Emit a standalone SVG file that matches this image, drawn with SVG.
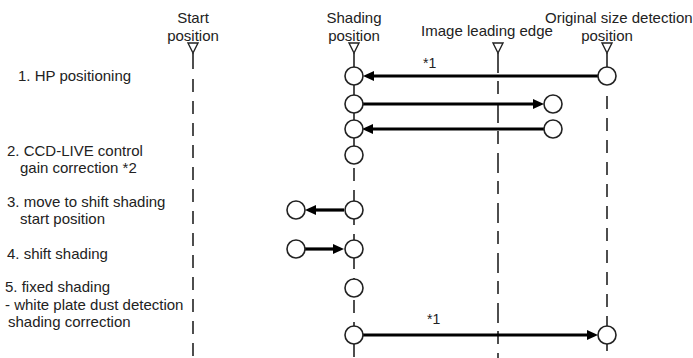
<svg xmlns="http://www.w3.org/2000/svg" width="693" height="358" viewBox="0 0 693 358">
<style>
text{font-family:"Liberation Sans",Arial,sans-serif;font-size:15px;fill:#222}
.c{text-anchor:middle}
.s{font-size:14px}
.tri{fill:none;stroke:#222;stroke-width:1.4}
.solid{stroke:#222;stroke-width:1.6;fill:none}
.dash{stroke:#222;stroke-width:1.6;fill:none;stroke-dasharray:13 9}
.node{fill:#fff;stroke:#222;stroke-width:1.6}
.arr{stroke:#000;stroke-width:3.2;fill:none}
.head{fill:#000}
</style>
<g id="labels">
<text class="c" x="193" y="23">Start</text>
<text class="c" x="193" y="41">position</text>
<text class="c" x="354" y="23">Shading</text>
<text class="c" x="354" y="41">position</text>
<text class="c" x="487" y="36">Image leading edge</text>
<text x="545" y="23">Original size detection</text>
<text class="c" x="607" y="41">position</text>
<text x="18" y="81">1. HP positioning</text>
<text x="7" y="156">2. CCD-LIVE control</text>
<text x="20" y="173">gain correction *2</text>
<text x="7" y="207">3. move to shift shading</text>
<text x="20" y="224">start position</text>
<text x="7" y="259">4. shift shading</text>
<text x="5" y="292">5. fixed shading</text>
<text x="5" y="310">- white plate dust detection</text>
<text x="8" y="327">shading correction</text>
</g>
<g id="connectors">
<polygon class="tri" points="188,43 198,43 193,53"/>
<line class="solid" x1="193" y1="53" x2="193" y2="69"/>
<line class="dash" x1="193" y1="79" x2="193" y2="358"/>
<polygon class="tri" points="349,43 359,43 354,53"/>
<line class="solid" x1="354" y1="53" x2="354" y2="164"/>
<line class="dash" x1="354" y1="168" x2="354" y2="358"/>
<polygon class="tri" points="493,43 503,43 498,53"/>
<line class="dash" x1="498" y1="53" x2="498" y2="358" style="stroke-dasharray:20 8 13 9"/>
<polygon class="tri" points="602,43 612,43 607,53"/>
<line class="solid" x1="607" y1="53" x2="607" y2="67"/>
<line class="dash" x1="607" y1="96" x2="607" y2="358"/>
<line class="arr" x1="598" y1="76" x2="372" y2="76"/>
<polygon class="head" points="363,76 374,71 374,81"/>
<line class="arr" x1="362" y1="104" x2="535" y2="104"/>
<polygon class="head" points="544,104 533,99 533,109"/>
<line class="arr" x1="544" y1="129" x2="372" y2="129"/>
<polygon class="head" points="362,129 373,124 373,134"/>
<line class="arr" x1="344" y1="210" x2="314" y2="210"/>
<polygon class="head" points="305,210 316,205 316,215"/>
<line class="arr" x1="305" y1="249" x2="335" y2="249"/>
<polygon class="head" points="344,249 333,244 333,254"/>
<line class="arr" x1="363" y1="335" x2="589" y2="335"/>
<polygon class="head" points="598,335 587,330 587,340"/>
<text class="s" x="423" y="68">*1</text>
<text class="s" x="427" y="324">*1</text>
</g>
<g id="n1"><circle class="node" cx="354" cy="76" r="9"/></g>
<g id="n2"><circle class="node" cx="607" cy="76" r="9"/></g>
<g id="n3"><circle class="node" cx="354" cy="104" r="9"/></g>
<g id="n4"><circle class="node" cx="553" cy="104" r="9"/></g>
<g id="n5"><circle class="node" cx="354" cy="129" r="9"/></g>
<g id="n6"><circle class="node" cx="553" cy="129" r="9"/></g>
<g id="n7"><circle class="node" cx="354" cy="155" r="9"/></g>
<g id="n8"><circle class="node" cx="354" cy="210" r="9"/></g>
<g id="n9"><circle class="node" cx="296" cy="210" r="9"/></g>
<g id="n10"><circle class="node" cx="296" cy="249" r="9"/></g>
<g id="n11"><circle class="node" cx="354" cy="249" r="9"/></g>
<g id="n12"><circle class="node" cx="354" cy="288" r="9"/></g>
<g id="n13"><circle class="node" cx="354" cy="335" r="9"/></g>
<g id="n14"><circle class="node" cx="607" cy="335" r="9"/></g>
</svg>
